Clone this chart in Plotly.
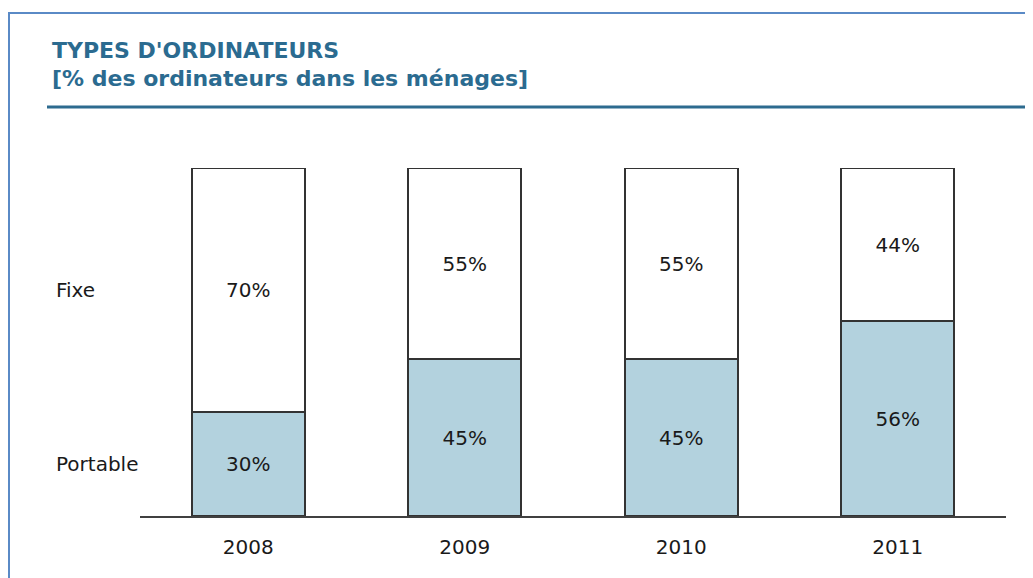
import plotly.graph_objects as go

years = ["2008", "2009", "2010", "2011"]
portable = [30, 45, 45, 56]
fixe = [70, 55, 55, 44]
series_names = ["Portable", "Fixe"]
title_text = "TYPES D'ORDINATEURS"
subtitle_text = "[% des ordinateurs dans les ménages]"

OFF = 8  # page body margin
W, H = 1033, 578
L, R, T, B = 140 - OFF, 35, 168 - OFF, 70
PW = W - L - R
PH = H - T - B


def px_x(p):
    return (p - OFF - L) / PW


def px_y(p):
    return (H - B - (p - OFF)) / PH


FONT = "DejaVu Sans, Arial, sans-serif"
TXT = "#1a1a1a"

fig = go.Figure()
fig.add_trace(go.Bar(
    x=years, y=portable, name=series_names[0],
    marker=dict(color="#b3d2de", line=dict(color="#333333", width=2)),
    texttemplate="%{y}%", textposition="inside", insidetextanchor="middle",
    textfont=dict(family=FONT, size=20, color=TXT), width=0.52,
))
fig.add_trace(go.Bar(
    x=years, y=fixe, name=series_names[1],
    marker=dict(color="#ffffff", line=dict(color="#333333", width=2)),
    texttemplate="%{y}%", textposition="inside", insidetextanchor="middle",
    textfont=dict(family=FONT, size=20, color=TXT), width=0.52,
))

annotations = [
    dict(text=title_text, x=px_x(50), y=px_y(50), xref="paper", yref="paper",
         xanchor="left", yanchor="middle", showarrow=False,
         font=dict(family=FONT, size=22, color="#2b6b90", weight="bold")),
    dict(text=subtitle_text, x=px_x(50), y=px_y(79), xref="paper", yref="paper",
         xanchor="left", yanchor="middle", showarrow=False,
         font=dict(family=FONT, size=22, color="#2b6b90", weight="bold")),
    dict(text=series_names[1], x=px_x(54), y=portable[0] + fixe[0] / 2,
         xref="paper", yref="y", xanchor="left", yanchor="middle",
         showarrow=False, font=dict(family=FONT, size=20, color=TXT)),
    dict(text=series_names[0], x=px_x(54), y=portable[0] / 2,
         xref="paper", yref="y", xanchor="left", yanchor="middle",
         showarrow=False, font=dict(family=FONT, size=20, color=TXT)),
]

shapes = [
    dict(type="rect", xref="paper", yref="paper",
         x0=px_x(9), x1=px_x(1060), y0=px_y(13), y1=px_y(610),
         line=dict(color="#5a8ac6", width=2), fillcolor="rgba(0,0,0,0)",
         layer="below"),
    dict(type="line", xref="paper", yref="paper",
         x0=px_x(47), x1=px_x(1060), y0=px_y(107), y1=px_y(107),
         line=dict(color="#2d6b8f", width=3)),
]

fig.update_layout(
    width=W, height=H, barmode="stack",
    margin=dict(l=L, r=R, t=T, b=B, pad=0),
    paper_bgcolor="white", plot_bgcolor="white",
    showlegend=False, annotations=annotations, shapes=shapes,
    xaxis=dict(type="category", range=[-0.5, 3.5], showline=True,
               linecolor="#404040", linewidth=2, showgrid=False,
               ticks="outside", ticklen=12, tickcolor="rgba(0,0,0,0)",
               tickfont=dict(family=FONT, size=20, color=TXT), fixedrange=True),
    yaxis=dict(range=[0, 100], visible=False, showgrid=False, fixedrange=True),
)
fig.update_traces(cliponaxis=False)

fig.write_html("out.html")
